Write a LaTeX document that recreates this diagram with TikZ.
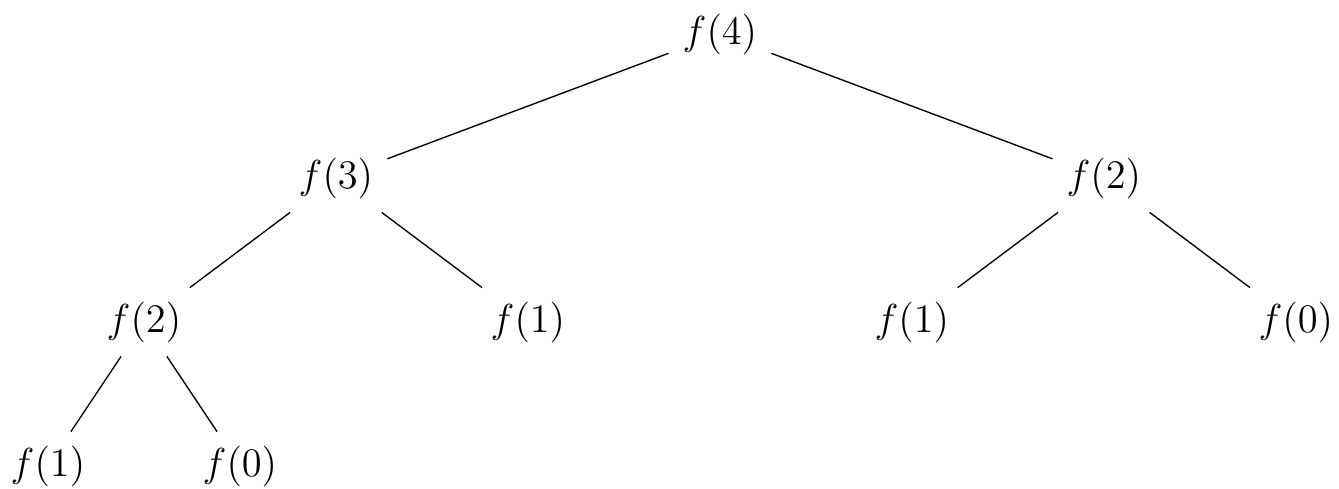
\documentclass[tikz,12pt,border=0pt]{standalone}
\usepackage{amsmath,amssymb}
\usetikzlibrary{positioning}

\begin{document}
\begin{tikzpicture}[
  level 1/.style={sibling distance=8cm},
  level 2/.style={sibling distance=4cm},
  level 3/.style={sibling distance=2cm}]
\useasboundingbox (-7.5,0.355) rectangle (6.45,-4.73);
\node (f4) {$f(4)$}
  child {node (f3) {$f(3)$}
    child {node (f3a) {$f(2)$}
      child {node (f3aa) {$f(1)$}}
      child {node (f3ab) {$f(0)$}}
    }
    child {node (f3b) {$f(1)$}}
  }
  child {node (f2) {$f(2)$}
    child {node (f2a) {$f(1)$}}
    child {node (f2b) {$f(0)$}}
  }
;
\end{tikzpicture}
\end{document}
